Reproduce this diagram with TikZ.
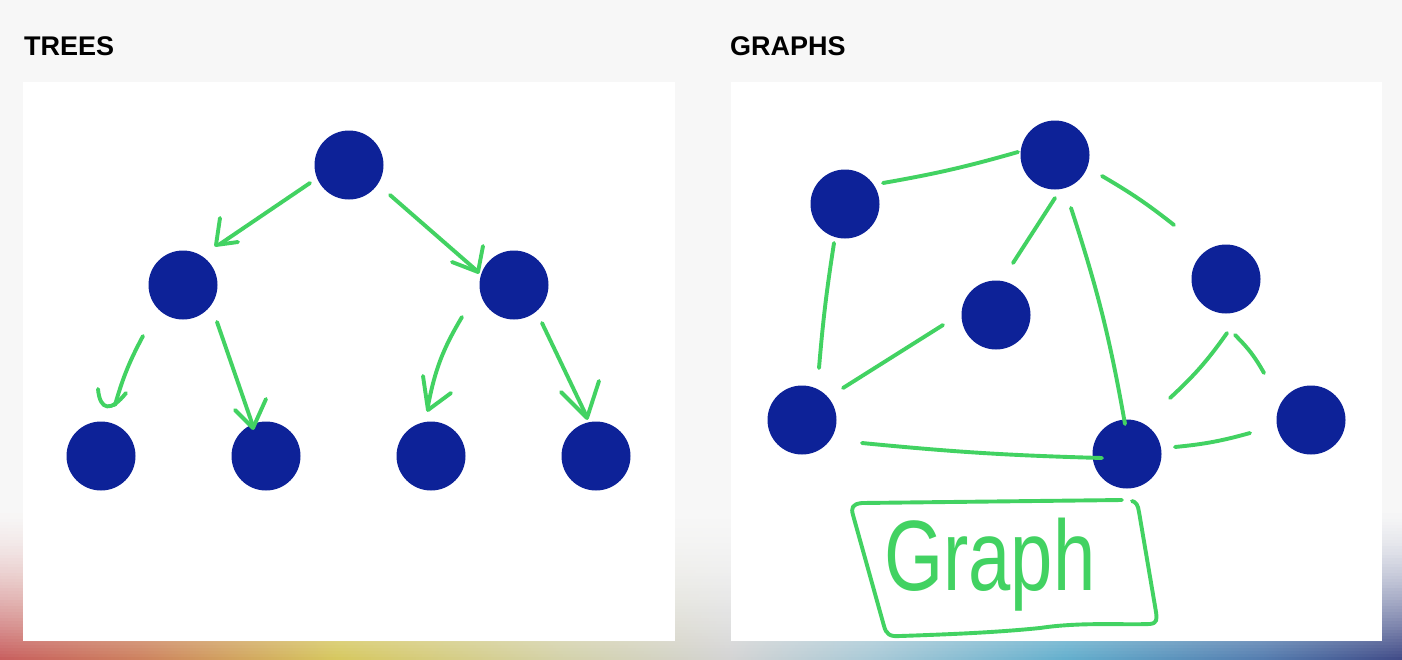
\documentclass[tikz,border=0pt]{standalone}
\usepackage{fontspec}
\setmainfont{Liberation Sans}
\newfontfamily\handfont{Liberation Sans}
\definecolor{bg}{RGB}{247,247,247}
\definecolor{nodeblue}{RGB}{13,34,152}
\definecolor{chalk}{RGB}{66,210,98}
\definecolor{g0}{RGB}{200,95,95}
\definecolor{g1}{RGB}{205,130,95}
\definecolor{g2}{RGB}{214,200,95}
\definecolor{g3}{RGB}{212,210,170}
\definecolor{g4}{RGB}{212,212,212}
\definecolor{g5}{RGB}{170,202,215}
\definecolor{g6}{RGB}{100,175,205}
\definecolor{g7}{RGB}{85,125,175}
\definecolor{g8}{RGB}{65,75,135}
\colorlet{c0}{g0}\colorlet{c1}{g1}\colorlet{c2}{g2}\colorlet{c3}{g3}\colorlet{c4}{g4}
\colorlet{c5}{g5}\colorlet{c6}{g6}\colorlet{c7}{g7}\colorlet{c8}{g8}
\pgfdeclarehorizontalshading[c0,c1,c2,c3,c4,c5,c6,c7,c8]{rainbowrow}{100bp}{color(0bp)=(c0); color(25bp)=(c0); color(30bp)=(c1); color(37bp)=(c2); color(45bp)=(c3); color(51bp)=(c4); color(56bp)=(c5); color(63bp)=(c6); color(70bp)=(c7); color(75bp)=(c8); color(100bp)=(c8)}
\begin{document}
\begin{tikzpicture}[x=1pt,y=-1pt,
  dot/.style={circle, fill=nodeblue, minimum size=69pt, inner sep=0pt},
  edge/.style={draw=chalk, line width=3.9pt, line cap=round, line join=round},
  title/.style={anchor=base west, inner sep=0pt, font=\fontsize{27}{27}\selectfont\bfseries}]
\useasboundingbox (0,0) rectangle (1402,659);
\fill[bg] (0,0) rectangle (1402,659);
\foreach \i in {0,...,51} {
  \pgfmathtruncatemacro{\pct}{100*((\i+1)/52)^1.7}
  \colorlet{c0}{g0!\pct!bg}\colorlet{c1}{g1!\pct!bg}\colorlet{c2}{g2!\pct!bg}
  \colorlet{c3}{g3!\pct!bg}\colorlet{c4}{g4!\pct!bg}\colorlet{c5}{g5!\pct!bg}
  \colorlet{c6}{g6!\pct!bg}\colorlet{c7}{g7!\pct!bg}\colorlet{c8}{g8!\pct!bg}
  \pgfmathsetmacro{\ya}{504+3*\i}
  \fill[shading=rainbowrow] (0,\ya) rectangle (1402,659);
}
\fill[white] (23,82) rectangle (675,641);
\fill[white] (731,82) rectangle (1382,641);
\node[title] (t1) at (24,55) {TREES};
\node[title] (t2) at (730,55) {GRAPHS};
% tree
\node[dot] (r) at (349,165) {};
\node[dot] (l) at (183,285) {};
\node[dot] (rr) at (514,285) {};
\node[dot] (l1) at (101,456) {};
\node[dot] (l2) at (266,456) {};
\node[dot] (l3) at (431,456) {};
\node[dot] (l4) at (596,456) {};
\draw[edge] ([shift={(-39,18)}]r.center) -- ([shift={(37,-41)}]l.center);
\draw[edge] ([shift={(37,-67)}]l.center) -- ([shift={(33,-40)}]l.center) -- ([shift={(55,-43)}]l.center);
\draw[edge] ([shift={(41,30)}]r.center) -- ([shift={(-38,-15)}]rr.center);
\draw[edge] ([shift={(-31,-39)}]rr.center) -- ([shift={(-36,-13)}]rr.center) -- ([shift={(-62,-23)}]rr.center);
\draw[edge] ([shift={(-40,51)}]l.center) to[bend right=6] ([shift={(14,-51)}]l1.center);
\draw[edge] ([shift={(-3,-67)}]l1.center) .. controls ([shift={(-1,-45)}]l1.center) and ([shift={(10,-44)}]l1.center) .. ([shift={(25,-63)}]l1.center);
\draw[edge] ([shift={(34,37)}]l.center) -- ([shift={(-13,-30)}]l2.center);
\draw[edge] ([shift={(-31,-46)}]l2.center) -- ([shift={(-13,-28)}]l2.center) -- ([shift={(0,-57)}]l2.center);
\draw[edge] ([shift={(-52,32)}]rr.center) to[bend right=10] ([shift={(-3,-50)}]l3.center);
\draw[edge] ([shift={(-8,-80)}]l3.center) -- ([shift={(-3,-46)}]l3.center) -- ([shift={(20,-63)}]l3.center);
\draw[edge] ([shift={(28,38)}]rr.center) -- ([shift={(-10,-41)}]l4.center);
\draw[edge] ([shift={(-35,-64)}]l4.center) -- ([shift={(-9,-38)}]l4.center) -- ([shift={(3,-75)}]l4.center);
% graph
\node[dot] (ga) at (845,204) {};
\node[dot] (gb) at (1055,155) {};
\node[dot] (gc) at (996,315) {};
\node[dot] (gd) at (1226,279) {};
\node[dot] (ge) at (802,420) {};
\node[dot] (gf) at (1127,454) {};
\node[dot] (gg) at (1311,420) {};
\draw[edge] ([shift={(38,-21)}]ga.center) to[bend right=3] ([shift={(-37,-3)}]gb.center);
\draw[edge] ([shift={(47,21)}]gb.center) to[bend left=4] ([shift={(-52,-54)}]gd.center);
\draw[edge] ([shift={(0,43)}]gb.center) -- ([shift={(17,-52)}]gc.center);
\draw[edge] ([shift={(16,53)}]gb.center) to[bend left=4] ([shift={(-2,-30)}]gf.center);
\draw[edge] ([shift={(-11,39)}]ga.center) to[bend right=2] ([shift={(17,-52)}]ge.center);
\draw[edge] ([shift={(-53,10)}]gc.center) -- ([shift={(41,-32)}]ge.center);
\draw[edge] ([shift={(60,23)}]ge.center) to[bend right=2] ([shift={(-25,4)}]gf.center);
\draw[edge] ([shift={(48,-7)}]gf.center) to[bend right=5] ([shift={(-61,13)}]gg.center);
\draw[edge] ([shift={(43,-56)}]gf.center) to[bend right=6] ([shift={(1,54)}]gd.center);
\draw[edge] ([shift={(9,56)}]gd.center) to[bend left=8] ([shift={(-47,-47)}]gg.center);
% graph label box
\node[anchor=base west, inner sep=0pt, text=chalk, xscale=0.76, font=\fontsize{100}{100}\selectfont\handfont] (lbl) at (884,590) {Graph};
\draw[edge] (1122,500) -- (862,503) .. controls (852,504) and (851,508) .. (853,515) -- (884,626) .. controls (886,634) and (890,637) .. (900,636) .. controls (960,634) and (1000,632) .. (1040,628) .. controls (1080,622) and (1120,625) .. (1150,624) .. controls (1157,623) and (1157,620) .. (1156,612) -- (1139,512) .. controls (1138,505) and (1136,502) .. (1132,501);
\end{tikzpicture}
\end{document}
